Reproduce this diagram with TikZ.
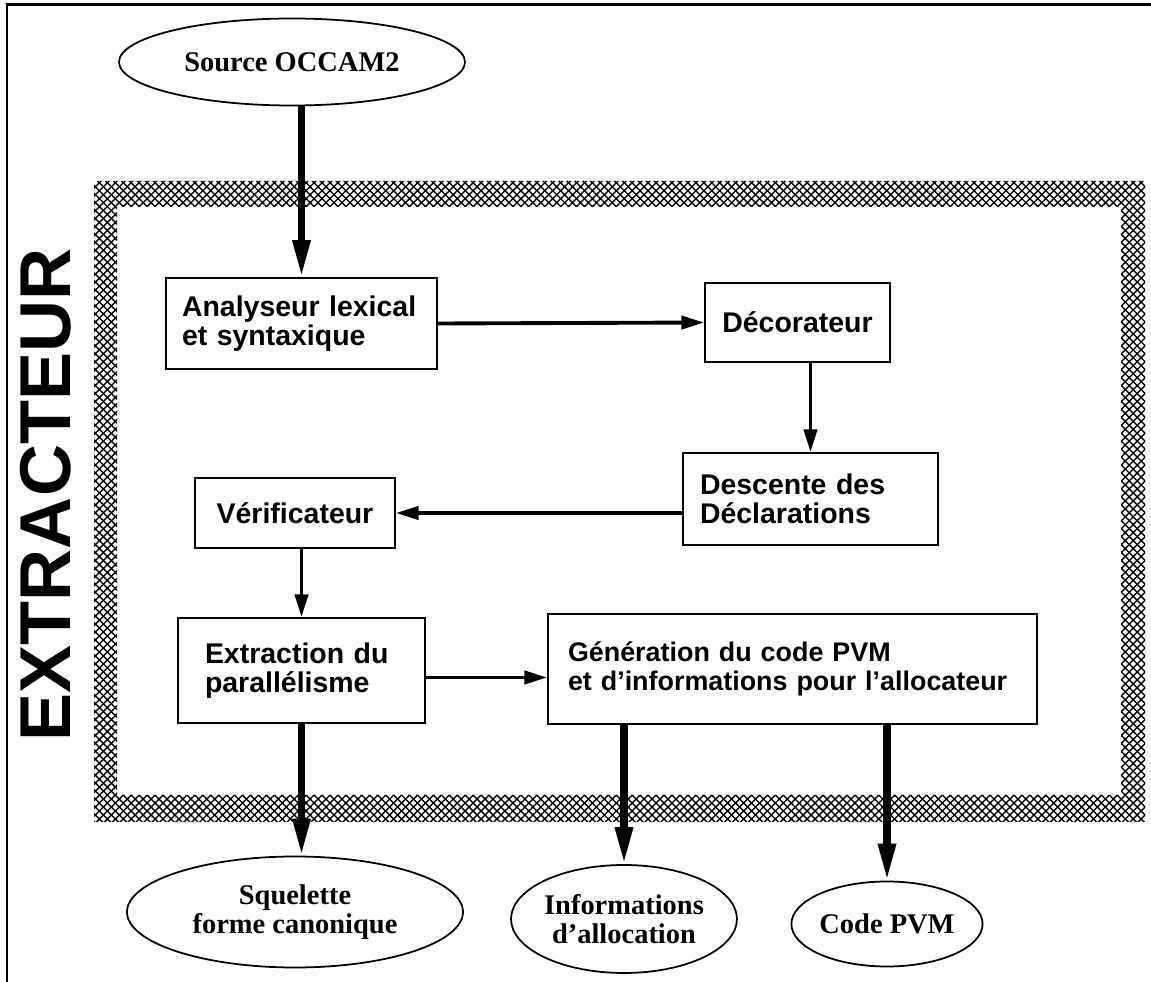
\documentclass[tikz,border=0pt]{standalone}
\usepackage{fontspec}
\setmainfont{Liberation Serif}
\setsansfont{Liberation Sans}
\usetikzlibrary{arrows.meta,positioning,shapes.geometric,patterns.meta}
\tikzset{
  every picture/.style={text=black},
}

\begin{document}
\begin{tikzpicture}[
  every node/.style={font=\bfseries\fontsize{16.2}{16.5}\selectfont},
  box/.style={draw, line width=1pt, align=left, inner sep=0pt, font=\sffamily\bfseries\fontsize{16.2}{16.5}\selectfont},
  term/.style={draw, ellipse, line width=1pt, align=center, inner sep=0pt},
  thinarr/.style={line width=2.2pt, -{Triangle[length=13pt,width=7.5pt]}},
  thickarr/.style={line width=4pt, -{Triangle[length=21pt,width=9.5pt]}},
  hatch/.style={even odd rule, pattern={Lines[angle=#1,distance=3.2pt,line width=0.8pt]}},
]
\useasboundingbox (0,0) rectangle (23.02,-19.64);
% Outer frame (only top and left sides show)
\draw[line width=1.7pt] (0.14,-19.64) -- (0.14,-0.1) -- (23.02,-0.1);
% Hatched border of the extractor
\fill[hatch=45] (1.88,-3.62) rectangle (22.9,-16.44) (2.34,-4.14) rectangle (22.42,-15.9);
\fill[hatch=-45] (1.88,-3.62) rectangle (22.9,-16.44) (2.34,-4.14) rectangle (22.42,-15.9);
\node[rotate=90, font=\sffamily\bfseries\fontsize{41}{41}\selectfont] (title) at (0.92,-9.9) {EXTRACTEUR};
% Input and outputs
\node[term, minimum width=6.92cm, minimum height=1.74cm] (src) at (5.84,-1.24) {Source OCCAM2};
\node[term, minimum width=6.72cm, minimum height=2.22cm] (sq) at (5.9,-18.24) {Squelette\\forme canonique};
\node[term, minimum width=4.36cm, minimum height=2.16cm] (info) at (12.48,-18.38) {Informations\\d'allocation};
\node[term, minimum width=3.42cm, minimum height=1.7cm] (pvm) at (17.74,-18.48) {Code PVM};
% Processing stages
\node[box, minimum width=5.42cm, minimum height=1.82cm, text width=4.78cm] (lex) at (6.03,-6.47) {Analyseur lexical\\et syntaxique};
\node[box, minimum width=3.7cm, minimum height=1.58cm] (deco) at (15.95,-6.45) {Décorateur};
\node[box, minimum width=5.1cm, minimum height=1.84cm, text width=4.42cm] (desc) at (16.21,-9.98) {Descente des\\Déclarations};
\node[box, minimum width=4cm, minimum height=1.4cm] (verif) at (5.9,-10.26) {Vérificateur};
\node[box, minimum width=4.94cm, minimum height=2.1cm, text width=3.86cm] (extr) at (6.03,-13.41) {Extraction du\\parallélisme};
\node[box, minimum width=9.78cm, minimum height=2.2cm, text width=8.98cm, font=\sffamily\bfseries\fontsize{15.3}{16.5}\selectfont] (gen) at (15.85,-13.38) {Génération du code PVM\\et d'informations pour l'allocateur};
% Flow between stages
\draw[thickarr] (lex.north |- src.south) -- (lex.north);
\draw[thinarr] (lex.east) -- (deco.west);
\draw[thinarr] (desc.north |- deco.south) -- (desc.north);
\draw[thinarr] (desc.west |- verif.east) -- (verif.east);
\draw[thinarr] (extr.north |- verif.south) -- (extr.north);
\draw[thinarr] ([yshift=-0.14cm]extr.east) -- ([yshift=-0.14cm]extr.east -| gen.west);
\draw[thickarr] (extr.south) -- (extr.south |- sq.north);
\draw[thickarr] (gen.south -| info.north) -- (info.north);
\draw[thickarr] (gen.south -| pvm.north) -- (pvm.north);
\end{tikzpicture}
\end{document}
